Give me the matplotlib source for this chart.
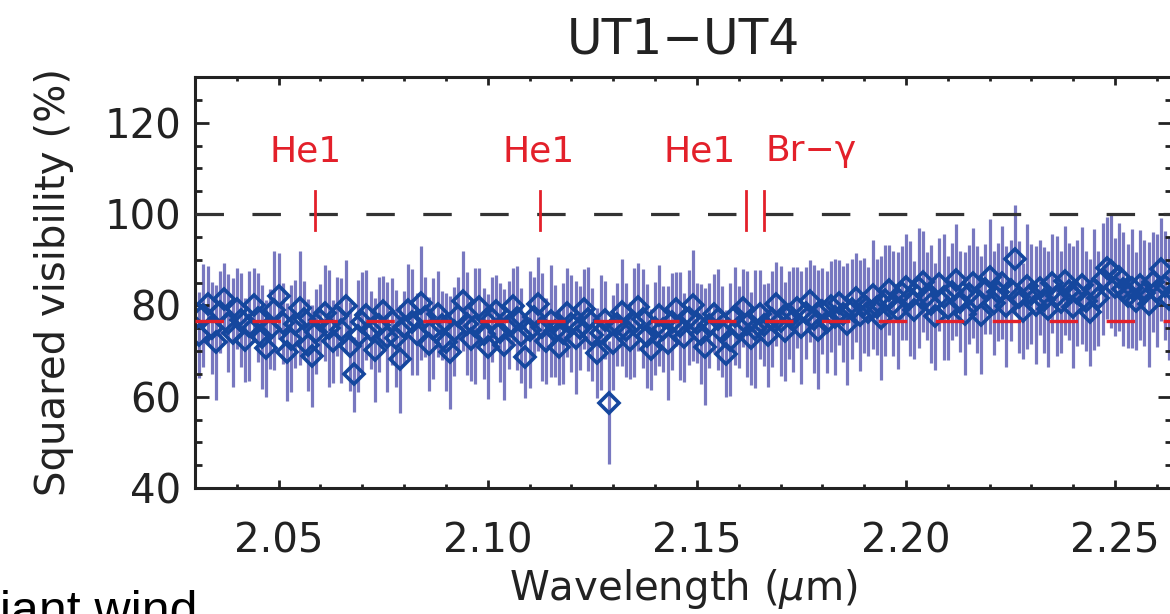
import numpy as np
import matplotlib
matplotlib.use("Agg")
import matplotlib.pyplot as plt
from matplotlib.ticker import MultipleLocator, FormatStrFormatter

plt.rcParams['font.family'] = ['DejaVu Sans']
plt.rcParams['mathtext.fontset'] = 'dejavusans'
plt.rcParams['lines.scale_dashes'] = False

# spectral channels (um), one per AMBER channel
wavelength = np.linspace(2.031, 2.264, 234)

# squared visibility (%)
vis2 = [
    73.5, 77.8, 80.2, 75.1, 71.9, 78.6, 81.4, 76.2, 74.0, 79.3,
    76.8, 72.4, 75.5, 80.1, 77.3, 73.0, 70.6, 74.8, 78.9, 82.0,
    76.1, 69.8, 72.7, 75.9, 79.4, 77.0, 71.3, 68.9, 74.2, 76.7,
    78.3, 75.0, 72.1, 77.6, 74.5, 79.8, 71.0, 64.9, 73.3, 76.4,
    77.9, 74.6, 70.2, 75.8, 78.7, 73.1, 76.5, 72.8, 68.3, 75.2,
    79.0, 76.3, 73.7, 80.5, 77.4, 71.6, 74.9, 78.1, 75.6, 72.0,
    69.7, 74.3, 77.7, 80.9, 76.0, 72.6, 75.4, 79.6, 73.8, 70.9,
    76.9, 78.8, 74.1, 71.4, 75.7, 79.9, 77.2, 73.4, 68.6, 74.7,
    77.5, 80.3, 75.3, 72.2, 76.6, 74.4, 70.8, 73.9, 78.4, 76.0,
    72.9, 75.1, 79.2, 77.0, 73.6, 69.5, 74.0, 76.8, 58.7, 71.8,
    75.9, 78.5, 74.6, 72.3, 76.2, 79.7, 77.1, 73.2, 70.4, 75.0,
    77.8, 74.8, 71.7, 76.4, 79.1, 75.5, 73.0, 77.3, 80.0, 76.1,
    73.7, 70.9, 75.6, 78.2, 76.9, 74.2, 69.4, 72.5, 77.6, 75.3,
    79.4, 76.0, 72.8, 74.9, 78.0, 75.7, 73.5, 77.1, 80.2, 76.6,
    74.3, 77.9, 76.8, 79.5, 75.2, 78.4, 81.0, 77.0, 74.7, 78.8,
    76.4, 79.8, 77.5, 80.6, 78.1, 75.9, 79.2, 81.7, 77.8, 80.0,
    78.6, 82.3, 79.7, 77.2, 81.1, 83.4, 80.4, 78.9, 82.6, 84.1,
    81.5, 79.0, 83.8, 85.2, 82.0, 80.3, 77.6, 84.6, 81.9, 79.4,
    83.0, 85.6, 80.8, 78.2, 82.4, 84.9, 81.3, 77.9, 83.6, 86.3,
    80.6, 82.9, 85.0, 79.8, 83.3, 90.1, 81.8, 78.7, 84.2, 82.5,
    80.0, 83.9, 81.2, 79.1, 84.8, 82.1, 80.7, 85.4, 83.1, 79.6,
    82.7, 84.4, 80.9, 78.5, 83.5, 81.6, 85.7, 88.2, 87.6, 84.0,
    86.2, 83.5, 82.0, 83.7, 81.0, 84.5, 82.8, 80.2, 85.1, 83.2,
    87.9, 84.3, 81.4, 83.0,
]

# error bars (half length, %)
vis2_err = [
    9.5, 11.2, 8.4, 10.1, 12.6, 9.0, 7.8, 10.7, 11.9, 8.8,
    10.3, 9.2, 12.1, 8.1, 9.8, 11.4, 10.6, 8.7, 13.0, 9.4,
    8.9, 10.8, 11.7, 9.6, 12.4, 8.3, 10.0, 11.1, 9.3, 7.9,
    10.5, 12.8, 9.1, 8.6, 11.5, 10.2, 9.7, 8.2, 12.2, 10.9,
    9.9, 8.5, 11.3, 10.4, 7.7, 12.0, 9.5, 10.6, 11.8, 8.0,
    10.1, 11.6, 9.0, 12.5, 8.8, 10.3, 11.0, 9.4, 7.6, 10.7,
    12.3, 9.8, 8.4, 10.9, 11.2, 9.1, 12.7, 8.6, 10.0, 11.5,
    9.3, 7.9, 10.8, 12.1, 9.6, 8.2, 11.4, 10.5, 9.0, 12.9,
    8.7, 10.2, 11.8, 9.5, 12.2, 10.0, 8.3, 11.1, 9.7, 10.6,
    12.4, 9.2, 8.8, 11.3, 10.1, 9.9, 12.6, 8.5, 13.5, 10.4,
    9.1, 11.7, 10.3, 8.4, 12.0, 9.6, 10.8, 11.4, 8.9, 10.2,
    11.0, 9.4, 12.5, 10.6, 8.1, 11.9, 9.8, 10.4, 12.2, 8.7,
    10.9, 12.8, 9.3, 8.6, 11.1, 10.0, 9.5, 12.3, 10.7, 9.0,
    8.5, 11.6, 10.2, 12.9, 9.7, 8.9, 11.3, 10.5, 9.2, 12.0,
    10.8, 9.6, 11.5, 8.8, 12.4, 10.1, 9.0, 11.8, 13.1, 9.4,
    11.2, 10.0, 12.7, 9.3, 10.6, 13.4, 11.0, 9.8, 12.1, 10.4,
    9.7, 11.9, 10.5, 13.6, 12.2, 9.9, 11.4, 12.8, 10.3, 11.6,
    12.5, 10.8, 13.2, 11.1, 9.6, 12.9, 11.7, 10.2, 13.8, 11.3,
    10.6, 12.3, 11.0, 13.5, 10.9, 12.0, 11.8, 13.0, 9.9, 12.6,
    11.4, 10.7, 12.4, 13.3, 11.1, 11.8, 12.2, 10.5, 13.7, 11.0,
    12.9, 10.3, 11.6, 12.7, 10.8, 13.1, 11.2, 12.0, 10.6, 13.4,
    11.5, 12.8, 10.9, 11.7, 13.2, 10.4, 12.3, 11.1, 12.6, 10.8,
    11.9, 12.5, 11.4, 13.0, 10.7, 12.1, 11.6, 13.6, 10.9, 12.4,
    11.3, 12.0, 13.3, 10.6,
]

mean_vis2 = 76.5

line_names = ['He1', 'He1', 'He1', 'Br−γ']
line_wl = [2.0587, 2.1126, 2.1617, 2.1661]

fig = plt.figure(figsize=(11.7, 6.14), dpi=100)
ax = fig.add_axes([195 / 1170, 126 / 614, 977 / 1170, 411 / 614])

ax.errorbar(wavelength, vis2, yerr=vis2_err, fmt='none', ecolor='#7878c0',
            elinewidth=2.3, capsize=0, zorder=1)
ax.plot(wavelength, vis2, linestyle='none', marker='D', ms=10.5,
        mfc='none', mec='#15479e', mew=2.6, zorder=2)

ax.axhline(mean_vis2, color='#e3202a', lw=2.4, dashes=(20.5, 20.5), zorder=3)
ax.axhline(100, color='#333333', lw=2.3, dashes=(20.5, 20.5), zorder=3)

# spectral line markers
for wl in line_wl:
    ax.plot([wl, wl], [96.5, 105], color='#e3202a', lw=2.0, zorder=4)
ax.text(line_wl[0] - 0.0022, 111.5, line_names[0], color='#e3202a',
        fontsize=26, ha='center', va='baseline')
ax.text(line_wl[1] - 0.0005, 111.5, line_names[1], color='#e3202a',
        fontsize=26, ha='center', va='baseline')
ax.text(line_wl[2] - 0.0025, 111.5, line_names[2], color='#e3202a',
        fontsize=26, ha='right', va='baseline')
ax.text(line_wl[3] + 0.0003, 111.5, line_names[3], color='#e3202a',
        fontsize=26, ha='left', va='baseline')

ax.set_xlim(2.030, 2.2636)
ax.set_ylim(40, 130)
ax.xaxis.set_major_locator(MultipleLocator(0.05))
ax.xaxis.set_minor_locator(MultipleLocator(0.01))
ax.xaxis.set_major_formatter(FormatStrFormatter('%.2f'))
ax.yaxis.set_minor_locator(MultipleLocator(5))
ax.set_yticks([40, 60, 80, 100, 120])

ax.tick_params(which='both', direction='in', top=True, right=True,
               labelsize=29, width=2.0, color='#222222', labelcolor='#222222')
ax.tick_params(axis='x', which='major', length=6, pad=24)
ax.tick_params(axis='x', which='minor', length=3)
ax.tick_params(axis='y', which='major', length=10, pad=10)
ax.tick_params(axis='y', which='minor', length=5)
for s in ax.spines.values():
    s.set_linewidth(2.2)
    s.set_color('#222222')

ax.set_title('UT1−UT4', fontsize=35, pad=17, color='#222222')
ax.set_xlabel(r'Wavelength ($\mu$m)', fontsize=29, labelpad=4, color='#222222')
ax.set_ylabel('Squared visibility (%)', fontsize=29, labelpad=22, color='#222222')

# text of the surrounding page, cut by the crop
fig.text(-28 / 1170, -12 / 614, 'giant wind', fontsize=36,
         family='Liberation Sans', va='baseline', ha='left')

plt.savefig('out.png', dpi=100)
